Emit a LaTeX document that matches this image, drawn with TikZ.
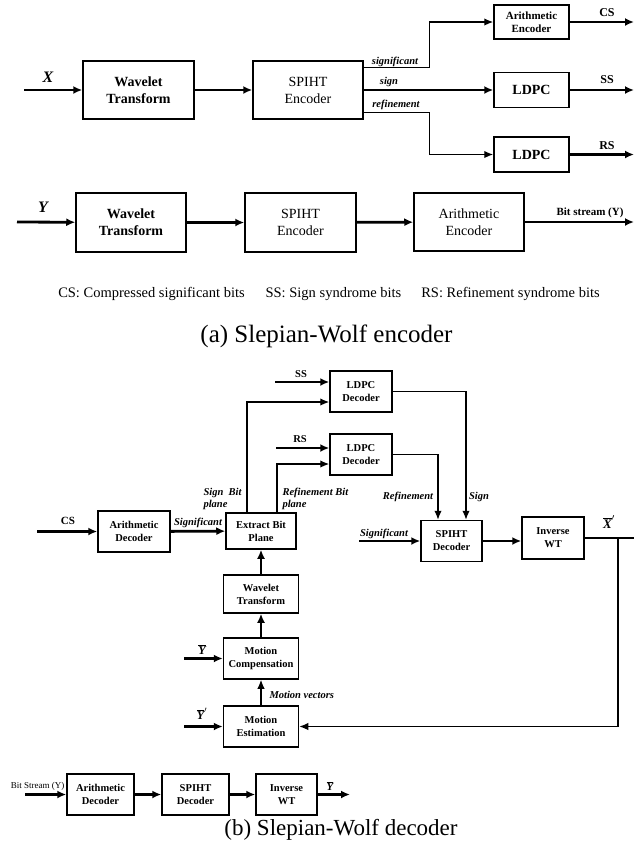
\documentclass[tikz,border=0pt]{standalone}
\usepackage{fontspec}
\setmainfont{Liberation Serif}
\usetikzlibrary{arrows.meta,calc}
\tikzset{
	blk/.style={draw, line width=1.5pt, align=center, inner sep=0pt},
	enc/.style={blk, font=\fontsize{14}{17}\selectfont},
	encb/.style={blk, font=\bfseries\fontsize{14}{17}\selectfont},
	dec/.style={blk, font=\bfseries\fontsize{10.5}{13}\selectfont},
	thk/.style={line width=2.8pt, -{Latex[length=9pt,width=8pt]}},
	mid/.style={line width=1.4pt, -{Latex[length=9pt,width=7.5pt]}},
	lbl/.style={font=\bfseries\itshape\fontsize{10.5}{12}\selectfont},
	tag/.style={font=\bfseries\fontsize{12}{14}\selectfont},
	var/.style={font=\bfseries\itshape\fontsize{16}{18}\selectfont},
	note/.style={font=\fontsize{14.5}{17}\selectfont},
	capt/.style={font=\fontsize{25}{28}\selectfont}
}
\begin{document}
\begin{tikzpicture}[x=1pt,y=-1pt]
	\useasboundingbox (0,0) rectangle (634,855);
	\coordinate (xin) at (24,90);
	\node[var] (xl) at (48,77) {X};
	\node[encb, minimum width=111pt, minimum height=58pt] (wta) at (138.5,90) {Wavelet\\Transform};
	\node[enc, minimum width=110pt, minimum height=58pt] (spa) at (308,90) {SPIHT\\Encoder};
	\node[blk, font=\bfseries\fontsize{11}{13}\selectfont, minimum width=75pt, minimum height=34pt] (aea) at (531.5,22) {Arithmetic\\Encoder};
	\node[encb, minimum width=75pt, minimum height=35pt] (lda) at (531.5,90) {LDPC};
	\node[encb, minimum width=75pt, minimum height=35pt] (ldb) at (531.5,154.5) {LDPC};
	\coordinate (csout) at (634,22);
	\coordinate (ssout) at (634,90);
	\coordinate (rsout) at (634,154.5);
	\draw[thk] (xin) -- (wta);
	\draw[thk] (wta) -- (spa);
	\draw[thk] (spa) -- (lda);
	\draw[mid] ($(spa.north east)+(0,7)$) -- ++(66,0) |- (aea.west);
	\draw[mid] ($(spa.south east)+(0,-7)$) -- ++(66,0) |- (ldb.west);
	\draw[thk] (aea) -- (csout);
	\draw[thk] (lda) -- (ssout);
	\draw[thk] (ldb) -- (rsout);
	\node[lbl] (sigl) at (395,62) {significant};
	\node[lbl] (sgnl) at (389,82) {sign};
	\node[lbl] (refl) at (396,105) {refinement};
	\node[tag] (csl) at (607,13) {CS};
	\node[tag] (ssl) at (607,80) {SS};
	\node[tag] (rsl) at (607,146) {RS};

	\coordinate (yin) at (17,222);
	\node[var] (yl) at (43,207) {Y};
	\node[encb, minimum width=110pt, minimum height=59pt] (wtb) at (131,222.5) {Wavelet\\Transform};
	\node[enc, minimum width=111pt, minimum height=59pt] (spb) at (300.5,222.5) {SPIHT\\Encoder};
	\node[enc, minimum width=110pt, minimum height=58pt] (aeb) at (469,222) {Arithmetic\\Encoder};
	\coordinate (bsout) at (634,222);
	\draw[thk] (yin) -- (wtb);
	\draw[thk] (wtb) -- (spb);
	\draw[thk] (spb) -- (aeb);
	\draw[thk] (aeb) -- (bsout);
	\node[tag, font=\bfseries\fontsize{11}{13}\selectfont] (bsl) at (590,213) {Bit stream (Y)};
	\node[note] (csn) at (151.5,294) {CS: Compressed significant bits};
	\node[note] (ssn) at (333.5,294) {SS: Sign syndrome bits};
	\node[note] (rsn) at (510.5,294) {RS: Refinement syndrome bits};
	\node[capt] (capa) at (326.5,336) {(a) Slepian-Wolf encoder};

	\node[dec, minimum width=62pt, minimum height=41pt] (ldc) at (361,391.5) {LDPC\\Decoder};
	\node[dec, minimum width=62pt, minimum height=41pt] (ldd) at (361,454.5) {LDPC\\Decoder};
	\node[dec, minimum width=70pt, minimum height=36pt] (ebp) at (261,531) {Extract Bit\\Plane};
	\node[dec, minimum width=72pt, minimum height=41pt] (ada) at (134,531.5) {Arithmetic\\Decoder};
	\node[dec, minimum width=61pt, minimum height=41pt] (sda) at (451.5,541) {SPIHT\\Decoder};
	\node[dec, minimum width=62pt, minimum height=42pt] (iwa) at (553,538) {Inverse\\WT};
	\node[dec, minimum width=75pt, minimum height=38pt] (wtc) at (261,594) {Wavelet\\Transform};
	\node[dec, minimum width=75pt, minimum height=41pt] (mcp) at (261,658.5) {Motion\\Compensation};
	\node[dec, minimum width=75pt, minimum height=41pt] (mes) at (261,726.5) {Motion\\Estimation};
	\coordinate (ssin) at (275,382);
	\coordinate (rsin) at (276,448);
	\coordinate (csin) at (37,531.5);
	\coordinate (sgin) at (359,541);
	\coordinate (ybin) at (184,658.5);
	\coordinate (ypin) at (184,726.5);
	\coordinate (xend) at (634,538);
	\coordinate (xtap) at (618,538);
	\draw[thk] (ssin) -- ([yshift=9.5pt]ldc.west);
	\draw[thk] (rsin) -- ([yshift=6.5pt]ldd.west);
	\draw[mid] ([xshift=-14pt]ebp.north) |- ([yshift=-10.5pt]ldc.west);
	\draw[mid] ([xshift=16pt]ebp.north) |- ([yshift=-9.5pt]ldd.west);
	\draw[mid] (ldc.east) -| ([xshift=14.5pt]sda.north);
	\draw[mid] (ldd.east) -| ([xshift=-13.5pt]sda.north);
	\draw[thk] (csin) -- (ada);
	\draw[thk] (ada) -- (ebp);
	\draw[thk] (sgin) -- (sda);
	\draw[thk] (sda.east) -- (sda.east -| iwa.west);
	\draw[line width=1.6pt] (iwa.east) -- (xend);
	\draw[mid] (xtap) |- (mes.east);
	\draw[thk] (wtc) -- (ebp);
	\draw[thk] (mcp) -- (wtc);
	\draw[mid] (mes) -- (mcp);
	\draw[thk] (ybin) -- (mcp);
	\draw[thk] (ypin) -- (mes);
	\node[tag, font=\bfseries\fontsize{10.5}{12}\selectfont] (ssl2) at (301,374) {SS};
	\node[tag, font=\bfseries\fontsize{10.5}{12}\selectfont] (rsl2) at (300,439) {RS};
	\node[tag, font=\bfseries\fontsize{11}{13}\selectfont] (csl2) at (68,521) {CS};
	\node[lbl, align=left, anchor=east] (sbp) at (245,499) {Sign~~Bit\\plane};
	\node[lbl, align=left, anchor=west] (rbp) at (279,499) {Refinement Bit\\plane};
	\node[lbl] (sgl2) at (198,523) {Significant};
	\node[lbl] (sgl3) at (384,534) {Significant};
	\node[lbl] (rfl) at (408,497) {Refinement};
	\node[lbl] (snl) at (479,497) {Sign};
	\node[lbl, anchor=west] (mvl) at (266,695) {Motion vectors};
	\node[var, font=\bfseries\itshape\fontsize{13}{15}\selectfont] (xpl) at (609,522) {$\overline{\hbox{X}}^{\prime}$};
	\node[var, font=\bfseries\itshape\fontsize{12}{14}\selectfont] (ybl) at (202,650) {$\overline{\hbox{Y}}$};
	\node[var, font=\bfseries\itshape\fontsize{12}{14}\selectfont] (ypl) at (202,714) {$\overline{\hbox{Y}}^{\prime}$};

	\coordinate (bsin) at (25,794.5);
	\coordinate (ybout) at (350,794.5);
	\node[font=\fontsize{9}{11}\selectfont] (bsl2) at (37.5,786) {Bit Stream (Y)};
	\node[dec, minimum width=67pt, minimum height=41pt] (adb) at (100.5,794.5) {Arithmetic\\Decoder};
	\node[dec, minimum width=67pt, minimum height=41pt] (sdb) at (195.5,794.5) {SPIHT\\Decoder};
	\node[dec, minimum width=61pt, minimum height=41pt] (iwb) at (286.5,794.5) {Inverse\\WT};
	\draw[thk] (bsin) -- (adb);
	\draw[thk] (adb) -- (sdb);
	\draw[thk] (sdb) -- (iwb);
	\draw[thk] (iwb) -- (ybout);
	\node[var, font=\bfseries\itshape\fontsize{11}{13}\selectfont] (ybl2) at (330,786) {$\overline{\hbox{Y}}$};
	\node[capt, font=\fontsize{23}{26}\selectfont] (capb) at (341,830) {(b) Slepian-Wolf decoder};
\end{tikzpicture}
\end{document}
